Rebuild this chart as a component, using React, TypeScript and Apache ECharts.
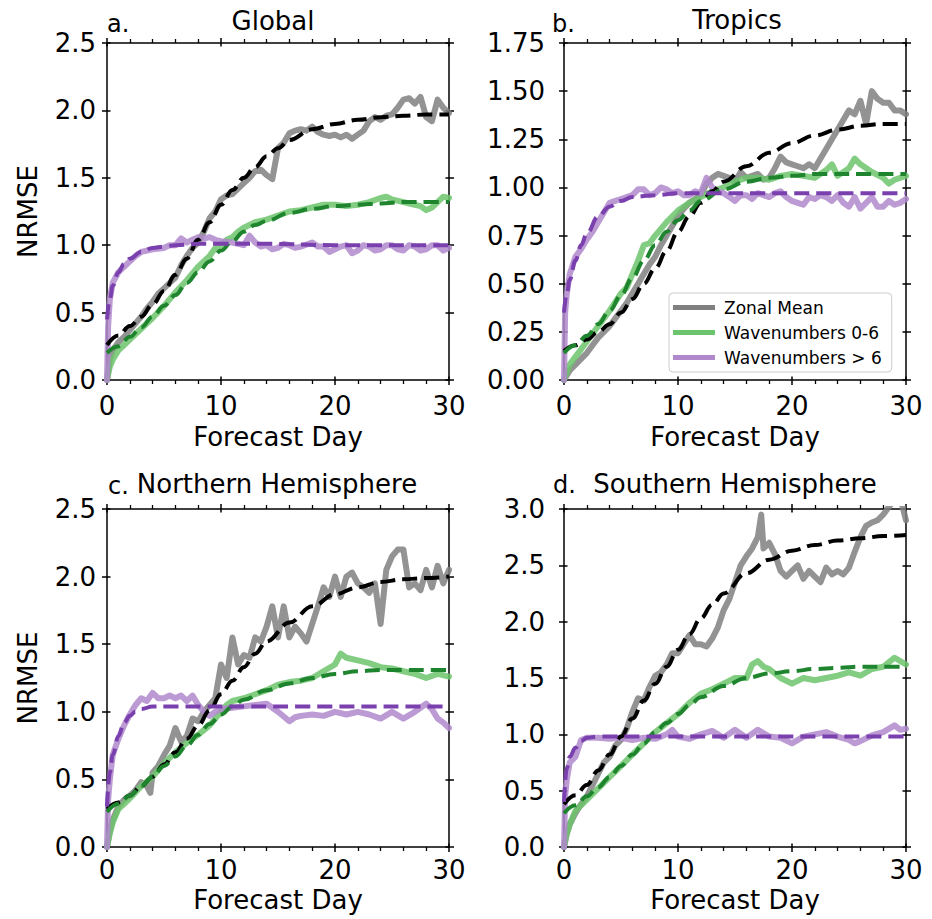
import React, { useEffect, useRef } from 'react';
import * as echarts from 'echarts';

type P = [number, number][];

const panelTitles = ['Global', 'Tropics', 'Northern Hemisphere', 'Southern Hemisphere'];
const panelLetters = ['a.', 'b.', 'c.', 'd.'];
const seriesNames = ['Zonal Mean', 'Wavenumbers 0-6', 'Wavenumbers > 6'];
const yMax = [2.5, 1.75, 2.5, 3.0];
const yStep = [0.5, 0.25, 0.5, 0.5];
const yDecimals = [1, 2, 1, 1];
const xMax = 30;
const xStep = 10;

// ---- a. Global ----
const aZonal: P = [[0,0],[0.25,0.15],[0.5,0.22],[1,0.28],[1.5,0.32],[2,0.37],[2.5,0.42],[3,0.47],[3.5,0.53],[4,0.58],[4.5,0.64],[5,0.68],[5.5,0.72],[6,0.76],[6.5,0.85],[7,0.92],[7.5,0.98],[8,1.02],[8.5,1.10],[9,1.20],[9.5,1.25],[10,1.34],[10.5,1.37],[11,1.38],[11.5,1.42],[12,1.46],[12.5,1.50],[13,1.55],[13.5,1.56],[14,1.52],[14.5,1.49],[15,1.72],[15.5,1.76],[16,1.83],[16.5,1.85],[17,1.86],[17.5,1.85],[18,1.88],[18.5,1.84],[19,1.82],[19.5,1.81],[20,1.82],[20.5,1.80],[21,1.82],[21.5,1.79],[22,1.82],[22.5,1.85],[23,1.92],[23.5,1.95],[24,1.93],[24.5,1.96],[25,1.97],[25.5,2.02],[26,2.08],[26.5,2.09],[27,2.05],[27.5,2.10],[28,1.95],[28.5,1.92],[29,2.08],[29.5,2.02],[30,1.98]];
const aWave06: P = [[0,0],[0.25,0.1],[0.5,0.15],[1,0.22],[1.5,0.26],[2,0.30],[3,0.38],[4,0.46],[5,0.55],[6,0.65],[7,0.74],[8,0.84],[9,0.92],[9.5,0.98],[10,1.0],[10.5,1.04],[11,1.06],[11.5,1.10],[12,1.13],[13,1.17],[14,1.19],[15,1.22],[16,1.25],[17,1.26],[18,1.28],[19,1.30],[20,1.30],[21,1.29],[22,1.30],[23,1.32],[24,1.35],[24.5,1.36],[25,1.34],[26,1.32],[27,1.30],[27.5,1.29],[28,1.26],[28.5,1.28],[29,1.32],[29.5,1.36],[30,1.35]];
const aWave6: P = [[0,0],[0.1,0.4],[0.25,0.6],[0.5,0.72],[1,0.8],[1.5,0.84],[2,0.88],[2.5,0.92],[3,0.95],[3.5,0.96],[4,0.97],[5,0.98],[5.5,1.0],[6,1.0],[6.5,1.05],[7,1.02],[7.5,1.04],[8,1.06],[8.5,1.05],[9,1.06],[9.5,1.04],[10,1.03],[11,1.02],[12,1.0],[12.5,1.07],[13,1.02],[13.5,0.99],[14,1.0],[14.5,0.97],[15,0.98],[15.5,1.01],[16,1.0],[16.5,0.98],[17,0.99],[18,1.02],[18.5,0.99],[19,0.99],[19.5,0.95],[20,0.97],[20.5,0.99],[21,1.0],[21.5,0.94],[22,0.96],[22.5,1.0],[23,0.99],[23.5,0.96],[24,0.97],[24.5,1.0],[25,1.0],[25.5,0.97],[26,0.96],[26.5,1.0],[27,0.99],[27.5,0.96],[28,0.97],[28.5,1.0],[29,1.0],[29.5,0.96],[30,0.98]];
const aFitZonal: P = [[0,0.26],[1,0.33],[2,0.40],[3,0.47],[4,0.56],[5,0.66],[6,0.78],[7,0.90],[8,1.04],[9,1.17],[10,1.30],[11,1.41],[12,1.50],[13,1.58],[14,1.66],[15,1.72],[16,1.78],[18,1.86],[20,1.90],[22,1.93],[24,1.95],[26,1.96],[28,1.97],[30,1.97]];
const aFit06: P = [[0,0.2],[1,0.25],[2,0.32],[3,0.39],[4,0.47],[5,0.55],[6,0.63],[7,0.72],[8,0.80],[9,0.88],[10,0.96],[11,1.03],[12,1.10],[13,1.15],[14,1.18],[16,1.24],[18,1.27],[20,1.29],[22,1.30],[24,1.31],[26,1.32],[28,1.32],[30,1.32]];
const aFit6: P = [[0,0.45],[0.25,0.6],[0.5,0.7],[1,0.8],[1.5,0.86],[2,0.9],[3,0.95],[4,0.98],[5,0.99],[6,1.0],[8,1.01],[10,1.01],[14,1.01],[20,1.0],[25,1.0],[30,1.0]];

// ---- b. Tropics ----
const bZonal: P = [[0,0],[0.5,0.05],[1,0.08],[1.5,0.11],[2,0.14],[2.5,0.18],[3,0.22],[3.5,0.25],[4,0.28],[4.5,0.32],[5,0.36],[5.5,0.40],[6,0.45],[6.5,0.50],[7,0.55],[7.5,0.60],[8,0.64],[8.5,0.70],[9,0.75],[9.5,0.80],[10,0.85],[10.5,0.89],[11,0.92],[11.5,0.94],[12,0.96],[12.5,1.02],[13,1.05],[13.5,1.07],[14,1.06],[14.5,1.05],[15,1.03],[15.5,1.08],[16,1.05],[16.5,1.06],[17,1.07],[17.5,1.04],[18,1.05],[18.5,1.10],[19,1.16],[19.5,1.13],[20,1.12],[20.5,1.11],[21,1.10],[21.5,1.12],[22,1.10],[22.5,1.15],[23,1.20],[23.5,1.25],[24,1.30],[24.5,1.35],[25,1.40],[25.5,1.38],[26,1.45],[26.5,1.33],[27,1.50],[27.5,1.46],[28,1.44],[28.5,1.44],[29,1.40],[29.5,1.40],[30,1.38]];
const bWave06: P = [[0,0],[0.5,0.08],[1,0.12],[1.5,0.16],[2,0.2],[3,0.28],[4,0.36],[5,0.45],[5.5,0.48],[6,0.55],[6.5,0.62],[7,0.70],[7.5,0.71],[8,0.75],[9,0.82],[10,0.88],[11,0.92],[12,0.95],[13,0.98],[14,1.0],[15,1.03],[16,1.05],[17,1.05],[18,1.04],[19,1.06],[20,1.07],[21,1.06],[22,1.05],[23,1.09],[23.5,1.12],[24,1.06],[25,1.10],[25.5,1.15],[26,1.12],[27,1.08],[28,1.05],[28.5,1.02],[29,1.04],[30,1.06]];
const bWave6: P = [[0,0],[0.1,0.35],[0.25,0.45],[0.5,0.55],[1,0.64],[1.5,0.68],[2,0.73],[2.5,0.77],[3,0.82],[3.5,0.87],[4,0.92],[4.5,0.93],[5,0.94],[5.5,0.95],[6,0.96],[6.5,0.99],[7,0.99],[7.5,0.96],[8,0.97],[8.5,1.0],[9,0.99],[9.5,0.97],[10,0.98],[10.5,0.96],[11,0.96],[11.5,0.98],[12,0.97],[12.5,1.05],[13,1.0],[13.5,0.98],[14,0.97],[14.5,0.95],[15,0.93],[15.5,0.96],[16,0.96],[16.5,0.94],[17,0.97],[17.5,0.96],[18,0.95],[18.5,0.97],[19,0.98],[19.5,0.95],[20,0.93],[20.5,0.92],[21,0.91],[21.5,0.95],[22,0.94],[22.5,0.96],[23,0.95],[23.5,0.93],[24,0.96],[24.5,0.92],[25,0.90],[25.5,0.95],[26,0.89],[26.5,0.92],[27,0.95],[27.5,0.90],[28,0.90],[28.5,0.93],[29,0.91],[29.5,0.92],[30,0.94]];
const bFitZonal: P = [[0,0.15],[1,0.18],[2,0.21],[3,0.25],[4,0.29],[5,0.35],[6,0.42],[7,0.50],[8,0.58],[9,0.67],[10,0.77],[11,0.85],[12,0.92],[13,0.98],[14,1.03],[16,1.11],[18,1.18],[20,1.23],[22,1.27],[24,1.30],[26,1.32],[28,1.33],[30,1.33]];
const bFit06: P = [[0,0.14],[1,0.18],[2,0.23],[3,0.29],[4,0.36],[5,0.44],[6,0.53],[7,0.62],[8,0.70],[9,0.77],[10,0.83],[11,0.88],[12,0.93],[14,0.99],[16,1.03],[18,1.05],[20,1.06],[22,1.07],[26,1.07],[30,1.07]];
const bFit6: P = [[0,0.35],[0.25,0.45],[0.5,0.52],[1,0.62],[1.5,0.70],[2,0.76],[3,0.85],[4,0.90],[5,0.93],[6,0.95],[8,0.96],[10,0.97],[20,0.97],[30,0.97]];

// ---- c. Northern Hemisphere ----
const cZonal: P = [[0,0],[0.25,0.12],[0.5,0.2],[1,0.3],[1.5,0.35],[2,0.38],[2.5,0.42],[3,0.48],[3.5,0.45],[3.8,0.40],[4,0.55],[4.5,0.6],[5,0.68],[5.5,0.75],[6,0.88],[6.5,0.78],[7,0.82],[7.5,0.95],[8,0.93],[8.5,1.0],[9,1.05],[9.5,1.10],[10,1.35],[10.5,1.25],[11,1.55],[11.5,1.35],[12,1.42],[12.5,1.40],[13,1.55],[13.5,1.52],[14,1.63],[14.5,1.78],[15,1.55],[15.5,1.78],[16,1.55],[16.5,1.63],[17,1.58],[17.5,1.52],[18,1.65],[18.5,1.78],[19,1.92],[19.5,1.85],[20,2.00],[20.5,1.85],[21,2.00],[21.5,2.03],[22,1.95],[22.5,1.92],[23,1.88],[23.5,1.95],[24,1.65],[24.5,2.05],[25,2.15],[25.5,2.20],[26,2.20],[26.5,1.92],[27,1.95],[27.5,1.90],[28,2.05],[28.5,1.92],[29,2.08],[29.5,1.95],[30,2.05]];
const cWave06: P = [[0,0],[0.25,0.1],[0.5,0.18],[1,0.28],[1.5,0.32],[2,0.36],[3,0.45],[4,0.52],[5,0.62],[6,0.70],[7,0.77],[8,0.83],[9,0.90],[10,1.0],[10.5,1.05],[11,1.08],[12,1.10],[13,1.13],[14,1.16],[15,1.20],[16,1.22],[17,1.23],[18,1.25],[19,1.30],[20,1.35],[20.5,1.43],[21,1.40],[22,1.38],[23,1.36],[24,1.33],[25,1.32],[26,1.30],[27,1.28],[28,1.25],[29,1.28],[30,1.26]];
const cWave6: P = [[0,0],[0.1,0.35],[0.25,0.5],[0.5,0.68],[1,0.8],[1.5,0.90],[2,0.98],[2.5,1.05],[3,1.10],[3.5,1.08],[4,1.14],[4.5,1.10],[5,1.10],[5.5,1.12],[6,1.10],[6.5,1.12],[7,1.08],[7.5,1.12],[8,1.05],[8.5,1.0],[9,0.97],[9.5,1.0],[10,1.02],[11,1.03],[12,1.04],[13,1.05],[14,1.06],[15,1.0],[16,0.93],[16.5,0.96],[17,0.97],[18,0.98],[19,0.97],[20,1.0],[21,0.98],[22,1.0],[23,0.98],[24,0.95],[25,1.0],[26,0.95],[27,1.0],[28,1.06],[28.5,1.02],[29,0.95],[29.5,0.92],[30,0.88]];
const cFitZonal: P = [[0,0.28],[1,0.33],[2,0.38],[3,0.45],[4,0.52],[5,0.61],[6,0.70],[7,0.80],[8,0.90],[9,1.01],[10,1.13],[11,1.23],[12,1.33],[13,1.43],[14,1.52],[16,1.66],[18,1.78],[20,1.87],[22,1.92],[24,1.96],[26,1.98],[28,1.99],[30,2.0]];
const cFit06: P = [[0,0.26],[1,0.32],[2,0.38],[3,0.45],[4,0.52],[5,0.60],[6,0.67],[7,0.75],[8,0.83],[9,0.91],[10,0.98],[11,1.04],[12,1.09],[14,1.16],[16,1.21],[18,1.25],[20,1.28],[22,1.30],[24,1.31],[26,1.31],[28,1.31],[30,1.31]];
const cFit6: P = [[0,0.3],[0.25,0.55],[0.5,0.68],[1,0.82],[1.5,0.92],[2,0.97],[2.5,1.0],[3,1.02],[4,1.04],[6,1.04],[15,1.04],[30,1.04]];

// ---- d. Southern Hemisphere ----
const dZonal: P = [[0,0],[0.25,0.12],[0.5,0.2],[1,0.3],[1.5,0.38],[2,0.45],[2.5,0.55],[3,0.65],[3.5,0.75],[4,0.80],[4.5,0.90],[5,0.95],[5.5,1.05],[6,1.2],[6.5,1.32],[7,1.30],[7.5,1.42],[8,1.52],[8.5,1.55],[9,1.62],[9.5,1.72],[10,1.72],[10.5,1.80],[11,1.88],[11.5,1.80],[12,1.80],[12.5,1.78],[13,1.85],[13.5,1.95],[14,2.10],[14.5,2.20],[15,2.35],[15.5,2.50],[16,2.58],[16.5,2.65],[17,2.75],[17.3,2.95],[17.5,2.65],[18,2.70],[18.5,2.60],[19,2.45],[19.5,2.40],[20,2.45],[20.5,2.50],[21,2.38],[21.5,2.45],[22,2.40],[22.5,2.35],[23,2.48],[23.5,2.42],[24,2.45],[24.5,2.42],[25,2.48],[25.5,2.62],[26,2.75],[26.5,2.85],[27,2.88],[27.5,2.90],[28,2.95],[28.5,3.02],[29,3.08],[29.5,3.1],[30,2.9]];
const dWave06: P = [[0,0],[0.25,0.12],[0.5,0.2],[1,0.32],[2,0.42],[3,0.52],[4,0.62],[5,0.72],[6,0.82],[7,0.92],[8,1.02],[9,1.10],[10,1.18],[11,1.28],[12,1.36],[13,1.40],[14,1.45],[15,1.50],[16,1.50],[16.5,1.62],[17,1.65],[17.5,1.60],[18,1.58],[19,1.50],[20,1.45],[21,1.50],[22,1.48],[23,1.50],[24,1.52],[25,1.55],[26,1.52],[27,1.58],[28,1.60],[29,1.68],[30,1.62]];
const dWave6: P = [[0,0],[0.1,0.45],[0.25,0.6],[0.5,0.75],[1,0.80],[1.5,0.95],[2,0.97],[3,0.97],[4,0.96],[5,0.97],[6,0.95],[7,0.97],[8,0.96],[9,1.0],[9.5,1.04],[10,0.98],[11,0.96],[12,1.0],[13,1.03],[14,0.97],[15,1.04],[16,0.97],[17,1.04],[18,0.98],[19,0.97],[20,0.92],[21,0.98],[22,1.0],[23,1.02],[24,0.98],[25,0.95],[25.5,0.92],[26,0.94],[27,0.99],[28,1.02],[29,1.08],[29.5,1.04],[30,1.05]];
const dFitZonal: P = [[0,0.38],[1,0.46],[2,0.55],[3,0.68],[4,0.82],[5,0.98],[6,1.14],[7,1.30],[8,1.45],[9,1.60],[10,1.75],[11,1.89],[12,2.03],[13,2.15],[14,2.25],[16,2.43],[18,2.55],[20,2.63],[22,2.68],[24,2.72],[26,2.74],[28,2.76],[30,2.77]];
const dFit06: P = [[0,0.3],[1,0.37],[2,0.45],[3,0.53],[4,0.62],[5,0.72],[6,0.82],[7,0.92],[8,1.02],[9,1.10],[10,1.18],[11,1.26],[12,1.33],[14,1.43],[16,1.50],[18,1.54],[20,1.56],[22,1.58],[24,1.59],[26,1.60],[28,1.60],[30,1.60]];
const dFit6: P = [[0,0.4],[0.25,0.7],[0.5,0.8],[1,0.88],[1.5,0.94],[2,0.97],[3,0.98],[4,0.98],[15,0.98],[30,0.98]];

const noisyData: P[][] = [
  [aZonal, aWave06, aWave6],
  [bZonal, bWave06, bWave6],
  [cZonal, cWave06, cWave6],
  [dZonal, dWave06, dWave6],
];
const fitData: P[][] = [
  [aFitZonal, aFit06, aFit6],
  [bFitZonal, bFit06, bFit6],
  [cFitZonal, cFit06, cFit6],
  [dFitZonal, dFit06, dFit6],
];

const noisyColors = ['#808080', '#6cc46c', '#b088cc'];
const fitColors = ['#000000', '#1e842e', '#7a40ad'];

const GRIDS = [
  { left: 107, top: 43, width: 342, height: 337 },
  { left: 564, top: 43, width: 342, height: 337 },
  { left: 107, top: 509, width: 342, height: 338 },
  { left: 564, top: 509, width: 342, height: 338 },
];
const FONT = 'DejaVu Sans';

function buildAxes(g: number) {
  const lineStyle = { color: '#000', width: 1.5 };
  const common = {
    gridIndex: g,
    type: 'value' as const,
    min: 0,
    splitLine: { show: false },
    axisPointer: { show: false },
    silent: true,
  };
  const xCommon = { ...common, max: xMax, interval: xStep };
  const yCommon = { ...common, max: yMax[g], interval: yStep[g] };
  const bottomRow = g >= 2;
  const rightCol = g % 2 === 1;
  const xs: any[] = [
    {
      ...xCommon,
      position: 'bottom',
      axisLine: { show: true, onZero: false, lineStyle },
      axisTick: { show: true, inside: false, length: 5, lineStyle },
      minorTick: { show: true, splitNumber: 5, length: 4, lineStyle: { color: '#000', width: 1.3 } },
      axisLabel: { show: true, color: '#000', fontSize: 26, fontFamily: FONT, margin: bottomRow ? 10 : 13 },
      name: 'Forecast Day',
      nameLocation: 'middle',
      nameGap: bottomRow ? 40 : 44,
      nameTextStyle: { color: '#000', fontSize: 26, fontFamily: FONT },
    },
    {
      ...xCommon,
      position: 'bottom',
      axisLine: { show: false, onZero: false },
      axisTick: { show: true, inside: true, length: 3.5, lineStyle },
      axisLabel: { show: false },
    },
    {
      ...xCommon,
      position: 'top',
      axisLine: { show: true, onZero: false, lineStyle },
      axisTick: { show: true, inside: false, length: 5, lineStyle },
      minorTick: { show: true, splitNumber: 5, length: 4, lineStyle: { color: '#000', width: 1.3 } },
      axisLabel: { show: false },
    },
    {
      ...xCommon,
      position: 'top',
      axisLine: { show: false, onZero: false },
      axisTick: { show: true, inside: true, length: 3.5, lineStyle },
      axisLabel: { show: false },
    },
  ];
  const ys: any[] = [
    {
      ...yCommon,
      position: 'left',
      axisLine: { show: true, onZero: false, lineStyle },
      axisTick: { show: true, inside: false, length: 5, lineStyle },
      axisLabel: {
        show: true,
        color: '#000',
        fontSize: 26,
        fontFamily: FONT,
        margin: rightCol ? 19 : 11,
        formatter: (v: number) => v.toFixed(yDecimals[g]),
      },
      name: rightCol ? '' : 'NRMSE',
      nameLocation: 'middle',
      nameGap: 66,
      nameTextStyle: { color: '#000', fontSize: 26, fontFamily: FONT },
    },
    {
      ...yCommon,
      position: 'left',
      axisLine: { show: false, onZero: false },
      axisTick: { show: true, inside: true, length: 3.5, lineStyle },
      axisLabel: { show: false },
    },
    {
      ...yCommon,
      position: 'right',
      axisLine: { show: true, onZero: false, lineStyle },
      axisTick: { show: true, inside: false, length: 5, lineStyle },
      axisLabel: { show: false },
    },
    {
      ...yCommon,
      position: 'right',
      axisLine: { show: false, onZero: false },
      axisTick: { show: true, inside: true, length: 3.5, lineStyle },
      axisLabel: { show: false },
    },
  ];
  return { xs, ys };
}

function buildOption() {
  const xAxis: any[] = [];
  const yAxis: any[] = [];
  const series: any[] = [];
  for (let g = 0; g < 4; g++) {
    const { xs, ys } = buildAxes(g);
    xAxis.push(...xs);
    yAxis.push(...ys);
    for (let k = 0; k < 3; k++) {
      series.push({
        name: seriesNames[k],
        type: 'line',
        xAxisIndex: g * 4,
        yAxisIndex: g * 4,
        data: noisyData[g][k],
        showSymbol: false,
        symbol: 'none',
        color: noisyColors[k],
        itemStyle: { color: noisyColors[k] },
        lineStyle: { color: noisyColors[k], width: 6, opacity: 0.85, join: 'round', cap: 'round' },
        silent: true,
        z: 2,
      });
    }
    for (let k = 0; k < 3; k++) {
      series.push({
        name: 'fit ' + seriesNames[k] + ' ' + panelLetters[g],
        type: 'line',
        xAxisIndex: g * 4,
        yAxisIndex: g * 4,
        data: fitData[g][k],
        showSymbol: false,
        symbol: 'none',
        smooth: 0.4,
        smoothMonotone: 'x',
        color: fitColors[k],
        lineStyle: { color: fitColors[k], width: 4, type: [15, 7] },
        silent: true,
        z: 3,
      });
    }
  }

  const titleY = [21, 20, 484, 484];
  const titleX = [273, 737, 277, 735];
  const letterX = [107, 552, 108, 553];
  const letterY = [24, 24, 486, 485];
  const graphic: any[] = [];
  for (let g = 0; g < 4; g++) {
    graphic.push({
      type: 'text',
      x: titleX[g],
      y: titleY[g],
      silent: true,
      style: {
        text: panelTitles[g],
        fill: '#000',
        fontSize: 26,
        fontFamily: FONT,
        textAlign: 'center',
        textVerticalAlign: 'middle',
        align: 'center',
        verticalAlign: 'middle',
      },
    });
    graphic.push({
      type: 'text',
      x: letterX[g],
      y: letterY[g],
      silent: true,
      style: {
        text: panelLetters[g],
        fill: '#000',
        fontSize: 24,
        fontFamily: FONT,
        textAlign: 'left',
        textVerticalAlign: 'middle',
        align: 'left',
        verticalAlign: 'middle',
      },
    });
  }

  return {
    animation: false,
    backgroundColor: '#ffffff',
    grid: GRIDS.map((r) => ({ ...r, containLabel: false })),
    xAxis,
    yAxis,
    series,
    legend: {
      data: seriesNames,
      orient: 'vertical',
      left: 669,
      top: 293,
      icon: 'rect',
      itemWidth: 42,
      itemHeight: 5,
      itemGap: 8,
      padding: [6, 10, 6, 4],
      selectedMode: false,
      borderColor: '#cccccc',
      borderWidth: 1,
      borderRadius: 4,
      backgroundColor: 'rgba(255,255,255,0.85)',
      textStyle: { color: '#000', fontSize: 17, fontFamily: FONT, padding: [0, 0, 0, 4] },
    },
    graphic,
  };
}

export default function App() {
  const ref = useRef<HTMLDivElement>(null);
  useEffect(() => {
    if (!ref.current) return;
    const chart = echarts.init(ref.current, undefined, { renderer: 'svg' });
    chart.setOption(buildOption() as any);
    return () => chart.dispose();
  }, []);
  return (
    <div
      ref={ref}
      style={{ position: 'absolute', left: 0, top: 0, width: 932, height: 919, background: '#fff' }}
    />
  );
}
